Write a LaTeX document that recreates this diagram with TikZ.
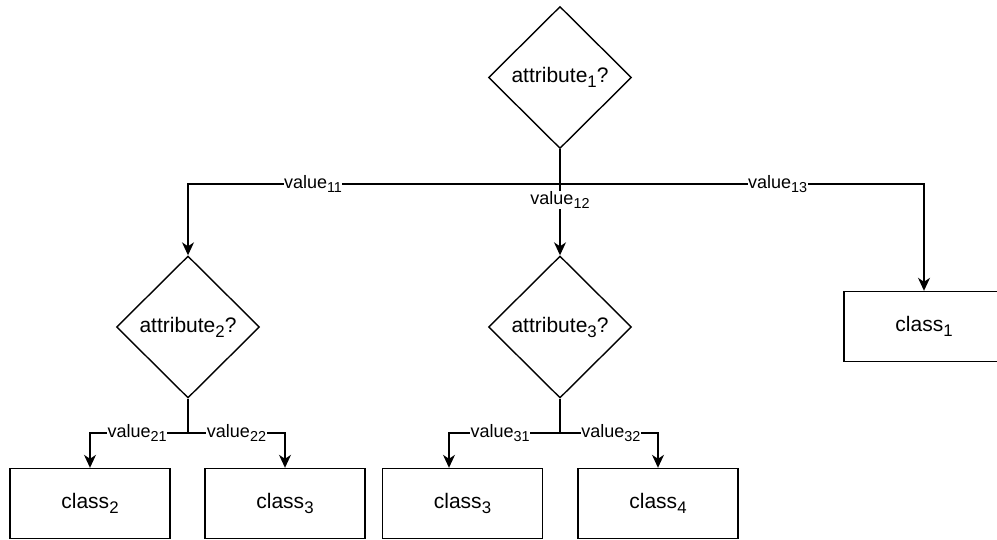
\documentclass[tikz,border=0pt]{standalone}
\usepackage{fontspec}
\setmainfont{Liberation Sans}
\usetikzlibrary{shapes.geometric,arrows.meta}

% lowered, slightly reduced index digits
\newcommand\idx[1]{\raisebox{-0.45ex}{\scalebox{0.8}{#1}}}

\tikzset{
  decision/.style={draw, line width=1.4pt, shape=diamond, inner sep=0pt,
    minimum width=143pt, minimum height=142pt, font=\fontsize{21}{25}\selectfont},
  leaf/.style={draw, line width=1.4pt, rectangle, minimum width=160pt,
    minimum height=70pt, font=\fontsize{21}{25}\selectfont},
  wire/.style={line width=1.4pt},
  arr/.style={wire, -{Stealth[length=13pt,width=12pt,inset=4pt]}},
  lbl/.style={fill=white, inner sep=0.5pt, font=\fontsize{18}{21}\selectfont}
}

\begin{document}
\begin{tikzpicture}[x=1pt,y=-1pt]
  \useasboundingbox (0,0) rectangle (997,540);

  % decision nodes
  \node[decision] (d1) at (560,77.5) {attribute\idx{1}?};
  \node[decision] (d2) at (188,327) {attribute\idx{2}?};
  \node[decision] (d3) at (560,327) {attribute\idx{3}?};

  % leaves
  \node[leaf] (c1) at (924,326.5) {class\idx{1}};
  \node[leaf] (c2) at (90,503.5) {class\idx{2}};
  \node[leaf] (c3a) at (285,503.5) {class\idx{3}};
  \node[leaf] (c3b) at (462.5,503.5) {class\idx{3}};
  \node[leaf] (c4) at (658,503.5) {class\idx{4}};

  % branch points
  \coordinate (j1) at (560,184);
  \coordinate (j2) at (188,433);
  \coordinate (j3) at (560,433);

  % first split
  \draw[wire] (d1.south) -- (j1);
  \draw[arr] (j1) -| node[lbl, pos=0.332] {value\idx{11}} (d2.north);
  \draw[arr] (j1) -- node[lbl, pos=0.225] {value\idx{12}} (d3.north);
  \draw[arr] (j1) -| node[lbl, pos=0.299] {value\idx{13}} (c1.north);

  % second split
  \draw[wire] (d2.south) -- (j2);
  \draw[arr] (j2) -| node[lbl, pos=0.26] {value\idx{21}} (c2.north);
  \draw[arr] (j2) -| node[lbl, pos=0.25] {value\idx{22}} (c3a.north);

  % third split
  \draw[wire] (d3.south) -- (j3);
  \draw[arr] (j3) -| node[lbl, pos=0.27] {value\idx{31}} ([xshift=-13.5pt]c3b.north);
  \draw[arr] (j3) -| node[lbl, pos=0.26] {value\idx{32}} (c4.north);
\end{tikzpicture}
\end{document}
